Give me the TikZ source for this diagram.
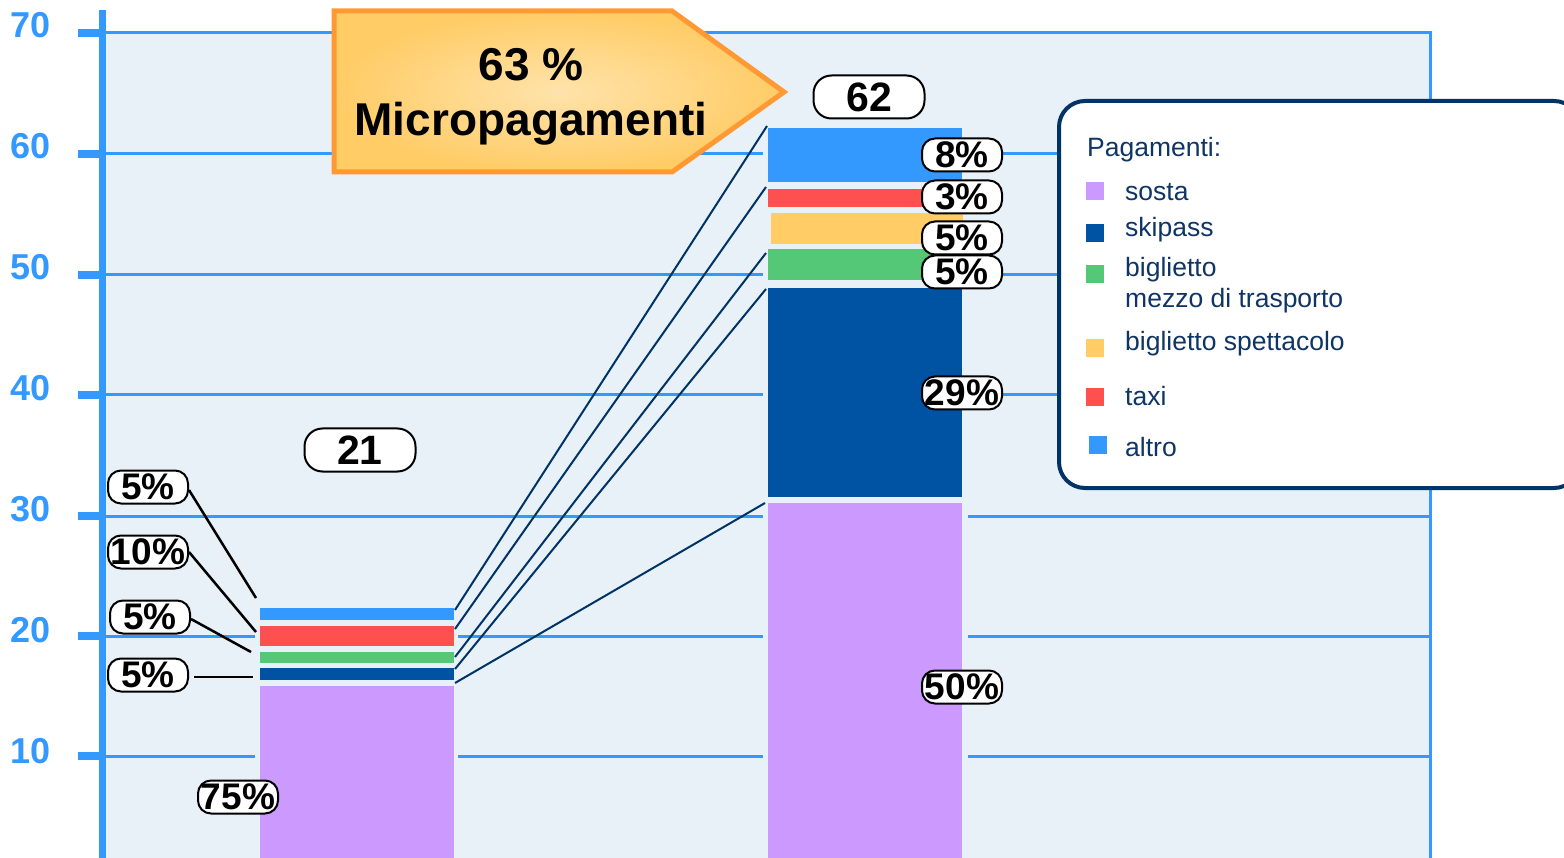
\documentclass[tikz,border=0pt]{standalone}
\usepackage{fontspec}
\setmainfont{Liberation Sans}
\definecolor{gridblue}{HTML}{3399FF}
\definecolor{plotbg}{HTML}{E8F0F8}
\definecolor{csosta}{HTML}{CC99FF}
\definecolor{cskipass}{HTML}{0052A3}
\definecolor{cbiglietto}{HTML}{55C878}
\definecolor{cspett}{HTML}{FFCC66}
\definecolor{ctaxi}{HTML}{FF5050}
\definecolor{caltro}{HTML}{3399FF}
\definecolor{navy}{HTML}{003366}
\definecolor{legtext}{HTML}{0F3566}
\definecolor{calloutborder}{HTML}{FF9933}
\begin{document}
\begin{tikzpicture}[x=1pt,y=-1pt,
  seg/.style={inner sep=0pt, outer sep=0pt, anchor=north west},
  axlab/.style={text=gridblue, font=\fontsize{36}{40}\selectfont\bfseries},
  pct/.style={draw=black, line width=2pt, fill=white, rounded corners=13pt,
    inner sep=0pt, minimum width=80pt, minimum height=33pt,
    font=\fontsize{37}{37}\selectfont\bfseries},
  tot/.style={draw=black, line width=2pt, fill=white, rounded corners=18pt,
    inner sep=0pt, minimum width=111pt, minimum height=43pt,
    font=\fontsize{41}{41}\selectfont\bfseries},
  grid/.style={gridblue, line width=3pt},
  tick/.style={gridblue, line width=8pt},
  conn/.style={navy, line width=2pt},
  leader/.style={black, line width=2.5pt},
  legbox/.style={minimum width=18pt, minimum height=18pt, inner sep=0pt},
  legtxt/.style={text=legtext, anchor=west, font=\fontsize{26.5}{31}\selectfont, align=left, inner sep=0pt}
]
\useasboundingbox (0,0) rectangle (1564,858);
% plot background
\fill[plotbg] (102,33) rectangle (1430,858);
% gridlines and ticks
\foreach \yy in {33,154,275,395,516,636,756} {
  \draw[grid] (102,\yy) -- (1430,\yy);
  \draw[tick] (78,\yy) -- (102,\yy);
}
\draw[gridblue, line width=3pt] (1430,31.5) -- (1430,858);
\draw[gridblue, line width=7pt] (102,10) -- (102,858);
% axis labels
\node[axlab] (y70) at (31,25) {70};
\node[axlab] (y60) at (31,146) {60};
\node[axlab] (y50) at (31,267) {50};
\node[axlab] (y40) at (31,388) {40};
\node[axlab] (y30) at (31,509) {30};
\node[axlab] (y20) at (31,630) {20};
\node[axlab] (y10) at (31,751) {10};

% column masks
\fill[plotbg] (255,603) rectangle (458,858);
\fill[plotbg] (763,123) rectangle (968,858);

% left bar segments
\node[seg, fill=caltro, minimum width=194pt, minimum height=12pt] (la) at (259.5,608) {};
\node[seg, fill=ctaxi, minimum width=194pt, minimum height=20pt] (lt) at (259.5,626) {};
\node[seg, fill=cbiglietto, minimum width=194pt, minimum height=11pt] (lb) at (259.5,652) {};
\node[seg, fill=cskipass, minimum width=194pt, minimum height=12pt] (lk) at (259.5,668) {};
\node[seg, fill=csosta, minimum width=194pt, minimum height=172pt] (ls) at (259.5,686) {};

% right bar segments
\node[seg, fill=caltro, minimum width=194pt, minimum height=54pt] (ra) at (768,128) {};
\node[seg, fill=ctaxi, minimum width=194pt, minimum height=18pt] (rt) at (768,189) {};
\node[seg, fill=cspett, minimum width=192pt, minimum height=31pt] (rp) at (771,213) {};
\node[seg, fill=cbiglietto, minimum width=194pt, minimum height=31pt] (rb) at (768,249) {};
\node[seg, fill=cskipass, minimum width=194pt, minimum height=209pt] (rk) at (768,288) {};
\node[seg, fill=csosta, minimum width=194pt, minimum height=355pt] (rs) at (768,503) {};

% connectors between bars
\coordinate (c1a) at (455,610); \coordinate (c1b) at (767,126);
\coordinate (c2a) at (455,629); \coordinate (c2b) at (766,187);
\coordinate (c3a) at (455,657); \coordinate (c3b) at (766,253);
\coordinate (c4a) at (455,669); \coordinate (c4b) at (766,289);
\coordinate (c5a) at (455,683); \coordinate (c5b) at (765,503);
\draw[conn] (c1a) -- (c1b);
\draw[conn] (c2a) -- (c2b);
\draw[conn] (c3a) -- (c3b);
\draw[conn] (c4a) -- (c4b);
\draw[conn] (c5a) -- (c5b);

% left labels
\node[pct] (p1) at (148,487) {5\%};
\node[pct] (p2) at (148,552) {10\%};
\node[pct] (p3) at (150,617) {5\%};
\node[pct] (p4) at (148,675) {5\%};
\node[pct] (p5) at (238,797) {75\%};
\coordinate (q1) at (256,598);
\coordinate (q2) at (256,632);
\coordinate (q3) at (251,652);
\coordinate (q4) at (253,677);
\draw[leader] (p1.east) ++(0,3) -- (q1);
\draw[leader] (p2.east) -- (q2);
\draw[leader] (p3.east) ++(0,2) -- (q3);
\draw[leader] (p4.east) ++(5,2) -- (q4);

% totals
\node[tot] (t21) at (360,450) {21};
\node[tot] (t62) at (869,97) {62};

% right labels
\node[pct] (r1) at (962,155) {8\%};
\node[pct] (r2) at (962,197) {3\%};
\node[pct] (r3) at (962,238) {5\%};
\node[pct] (r4) at (962,272) {5\%};
\node[pct] (r5) at (962,393) {29\%};
\node[pct] (r6) at (962,687) {50\%};

% callout arrow
\coordinate (k1) at (334,11);
\coordinate (k2) at (672,11);
\coordinate (k3) at (784,92);
\coordinate (k4) at (672,172);
\coordinate (k5) at (334,172);
\shadedraw[draw=calloutborder, line width=5pt, line join=miter,
  inner color=cspett!55!white, outer color=cspett]
  (k1) -- (k2) -- (k3) -- (k4) -- (k5) -- cycle;
\node[font=\fontsize{46}{55}\selectfont\bfseries, align=center, inner sep=0pt] (callout) at (531,97)
  {63 \%\\Micropagamenti};

% legend
\draw[navy, line width=4pt, fill=white, rounded corners=26pt] (1059,101) rectangle (1580,488);
\node[legtxt] (lgh) at (1087,150) {Pagamenti:};
\node[legbox, fill=csosta] (s1) at (1095,191) {};
\node[legtxt] (l1) at (1125,192) {sosta};
\node[legbox, fill=cskipass] (s2) at (1095,233) {};
\node[legtxt] (l2) at (1125,230) {skipass};
\node[legbox, fill=cbiglietto] (s3) at (1095,274) {};
\node[legtxt] (l3) at (1125,285) {biglietto\\mezzo di trasporto};
\node[legbox, fill=cspett] (s4) at (1095,348) {};
\node[legtxt] (l4) at (1125,344) {biglietto spettacolo};
\node[legbox, fill=ctaxi] (s5) at (1095,397) {};
\node[legtxt] (l5) at (1125,396) {taxi};
\node[legbox, fill=caltro] (s6) at (1098,445) {};
\node[legtxt] (l6) at (1125,447) {altro};
\end{tikzpicture}
\end{document}
